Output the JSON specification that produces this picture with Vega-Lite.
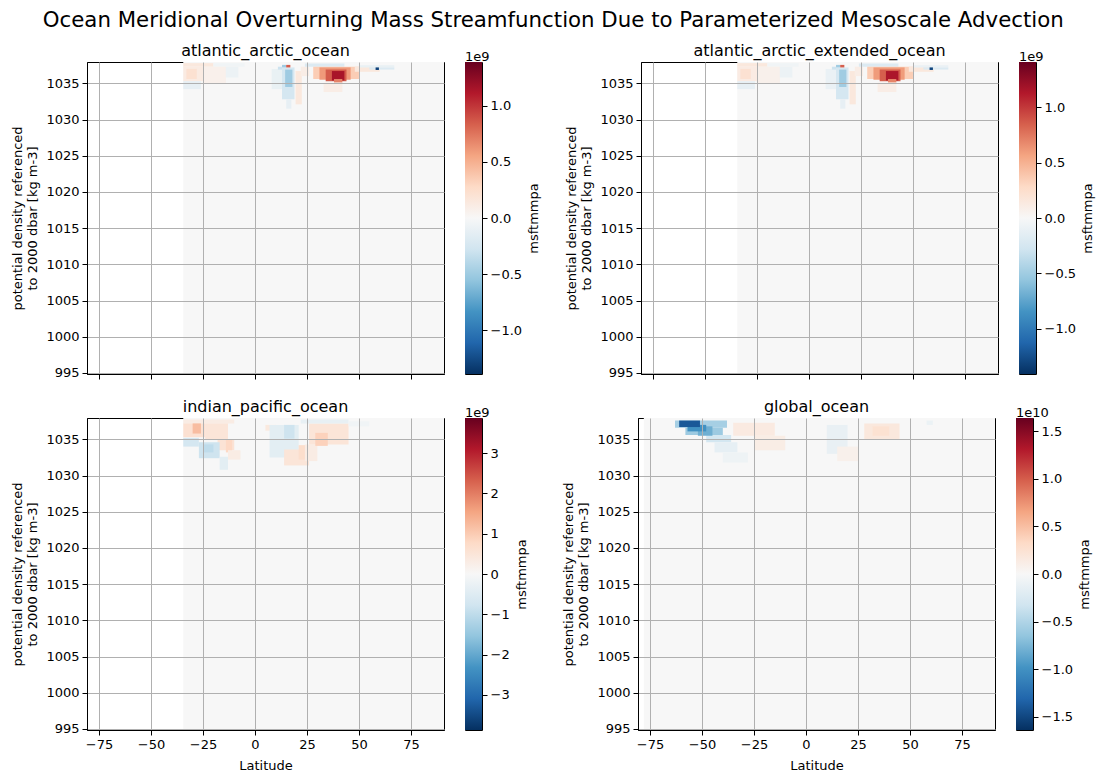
{
  "$schema": "https://vega.github.io/schema/vega-lite/v6.json",
  "background": "white",
  "padding": {"left": 11, "top": 10, "right": 0, "bottom": 0},
  "title": {"text": "Ocean Meridional Overturning Mass Streamfunction Due to Parameterized Mesoscale Advection", "fontSize": 21.3, "anchor": "middle", "offset": 11},
  "config": {
    "font": "DejaVu Sans",
    "view": {"stroke": "#000000", "strokeWidth": 1},
    "axis": {"labelFontSize": 13, "titleFontSize": 13, "labelColor": "#000000", "titleColor": "#000000", "titleFontWeight": "normal", "tickColor": "#000000", "domainColor": "#000000", "tickSize": 5, "labelPadding": 3, "gridColor": "#b0b0b0", "gridOpacity": 1, "gridWidth": 1, "domainWidth": 1, "tickWidth": 1},
    "title": {"fontSize": 16, "fontWeight": "normal", "color": "#000000", "offset": 3}
  },
  "resolve": {"scale": {"color": "independent"}},
  "datasets": {
    "aa": [
      {"lat0": -34.5, "lat1": 90.9, "dens0": 994.86, "dens1": 1037.95, "v": 0},
      {"lat0": -34.5, "lat1": -20, "dens0": 1037.3, "dens1": 1037.8, "v": 0.15e9},
      {"lat0": -20, "lat1": -5, "dens0": 1037.3, "dens1": 1037.8, "v": -0.05e9},
      {"lat0": -34.5, "lat1": -25, "dens0": 1035.3, "dens1": 1037.3, "v": 0.12e9},
      {"lat0": -33, "lat1": -28, "dens0": 1035.6, "dens1": 1037.0, "v": 0.22e9},
      {"lat0": -34.5, "lat1": -26, "dens0": 1034.2, "dens1": 1035.3, "v": -0.12e9},
      {"lat0": -25, "lat1": -14, "dens0": 1035.0, "dens1": 1037.3, "v": 0.07e9},
      {"lat0": -14, "lat1": -8, "dens0": 1035.8, "dens1": 1037.3, "v": -0.08e9},
      {"lat0": 8, "lat1": 13, "dens0": 1034.2, "dens1": 1037.0, "v": -0.1e9},
      {"lat0": 13, "lat1": 19, "dens0": 1032.8, "dens1": 1037.2, "v": -0.25e9},
      {"lat0": 14.5, "lat1": 18, "dens0": 1034.5, "dens1": 1036.9, "v": -0.5e9},
      {"lat0": 15, "lat1": 17.5, "dens0": 1031.5, "dens1": 1032.8, "v": -0.12e9},
      {"lat0": 19.5, "lat1": 22.5, "dens0": 1032.1, "dens1": 1036.7, "v": 0.15e9},
      {"lat0": 22, "lat1": 26, "dens0": 1036.0, "dens1": 1037.3, "v": 0.1e9},
      {"lat0": 11, "lat1": 13, "dens0": 1036.9, "dens1": 1037.3, "v": -0.3e9},
      {"lat0": 13, "lat1": 15, "dens0": 1037.2, "dens1": 1037.55, "v": -0.5e9},
      {"lat0": 15, "lat1": 17, "dens0": 1037.2, "dens1": 1037.55, "v": 0.85e9},
      {"lat0": 24, "lat1": 43, "dens0": 1037.3, "dens1": 1037.75, "v": -0.2e9},
      {"lat0": 28, "lat1": 50, "dens0": 1035.6, "dens1": 1037.3, "v": 0.35e9},
      {"lat0": 48, "lat1": 60, "dens0": 1036.6, "dens1": 1037.3, "v": 0.15e9},
      {"lat0": 31, "lat1": 46, "dens0": 1035.5, "dens1": 1037.2, "v": 0.6e9},
      {"lat0": 34, "lat1": 44, "dens0": 1035.3, "dens1": 1036.9, "v": 0.85e9},
      {"lat0": 37, "lat1": 43, "dens0": 1035.4, "dens1": 1036.7, "v": 1.15e9},
      {"lat0": 38, "lat1": 42, "dens0": 1035.1, "dens1": 1035.6, "v": 0.7e9},
      {"lat0": 33, "lat1": 42, "dens0": 1033.8, "dens1": 1035.1, "v": 0.1e9},
      {"lat0": 50, "lat1": 67, "dens0": 1037.2, "dens1": 1037.5, "v": -0.1e9},
      {"lat0": 55, "lat1": 67, "dens0": 1036.9, "dens1": 1037.2, "v": -0.2e9},
      {"lat0": 58, "lat1": 59.6, "dens0": 1036.85, "dens1": 1037.2, "v": -1.3e9}
    ],
    "ip": [
      {"lat0": -34.5, "lat1": 90.9, "dens0": 994.86, "dens1": 1037.95, "v": 0},
      {"lat0": -34.5, "lat1": -10, "dens0": 1037.2, "dens1": 1037.75, "v": 0.3e9},
      {"lat0": -34.5, "lat1": -24, "dens0": 1035.3, "dens1": 1037.2, "v": 0.6e9},
      {"lat0": -30, "lat1": -26, "dens0": 1035.8, "dens1": 1037.2, "v": 1.2e9},
      {"lat0": -24, "lat1": -13, "dens0": 1035.0, "dens1": 1037.2, "v": 0.5e9},
      {"lat0": -18, "lat1": -10, "dens0": 1033.5, "dens1": 1035.0, "v": 0.55e9},
      {"lat0": -14, "lat1": -11, "dens0": 1033.2, "dens1": 1035.0, "v": 0.8e9},
      {"lat0": -13, "lat1": -7, "dens0": 1032.2, "dens1": 1033.5, "v": 0.3e9},
      {"lat0": -34.5, "lat1": -27, "dens0": 1034.0, "dens1": 1035.2, "v": -0.7e9},
      {"lat0": -27, "lat1": -17, "dens0": 1032.4, "dens1": 1034.6, "v": -0.8e9},
      {"lat0": -25, "lat1": -20, "dens0": 1033.2, "dens1": 1034.3, "v": -1.0e9},
      {"lat0": -17, "lat1": -13, "dens0": 1030.8, "dens1": 1032.6, "v": -0.4e9},
      {"lat0": 5, "lat1": 10, "dens0": 1036.2, "dens1": 1037.0, "v": 0.4e9},
      {"lat0": 7, "lat1": 21, "dens0": 1032.5, "dens1": 1037.0, "v": -0.4e9},
      {"lat0": 14, "lat1": 19, "dens0": 1035.1, "dens1": 1037.0, "v": -0.8e9},
      {"lat0": 14, "lat1": 26, "dens0": 1031.4, "dens1": 1033.6, "v": 0.5e9},
      {"lat0": 21, "lat1": 26, "dens0": 1032.2, "dens1": 1034.2, "v": 0.7e9},
      {"lat0": 24, "lat1": 30, "dens0": 1032.0, "dens1": 1034.3, "v": 0.3e9},
      {"lat0": 26, "lat1": 45, "dens0": 1034.3, "dens1": 1037.2, "v": 0.5e9},
      {"lat0": 29, "lat1": 35, "dens0": 1034.1, "dens1": 1035.9, "v": 0.9e9},
      {"lat0": 22, "lat1": 45, "dens0": 1037.2, "dens1": 1037.75, "v": -0.3e9},
      {"lat0": 45, "lat1": 55, "dens0": 1036.8, "dens1": 1037.5, "v": -0.15e9}
    ],
    "gl": [
      {"lat0": -78, "lat1": 90.9, "dens0": 994.86, "dens1": 1037.95, "v": 0},
      {"lat0": -63, "lat1": -38, "dens0": 1036.6, "dens1": 1037.6, "v": -0.55e10},
      {"lat0": -58, "lat1": -40, "dens0": 1035.6, "dens1": 1036.6, "v": -0.6e10},
      {"lat0": -48, "lat1": -36, "dens0": 1034.6, "dens1": 1035.6, "v": -0.3e10},
      {"lat0": -44, "lat1": -33, "dens0": 1033.2, "dens1": 1034.6, "v": -0.15e10},
      {"lat0": -40, "lat1": -28, "dens0": 1031.8, "dens1": 1033.2, "v": -0.08e10},
      {"lat0": -52, "lat1": -45, "dens0": 1035.5, "dens1": 1036.8, "v": -0.8e10},
      {"lat0": -57, "lat1": -48, "dens0": 1036.1, "dens1": 1037.0, "v": -1.0e10},
      {"lat0": -61, "lat1": -51, "dens0": 1036.7, "dens1": 1037.6, "v": -1.4e10},
      {"lat0": -35, "lat1": -15, "dens0": 1035.5, "dens1": 1037.3, "v": 0.15e10},
      {"lat0": -25, "lat1": -10, "dens0": 1033.5, "dens1": 1035.5, "v": 0.12e10},
      {"lat0": 10, "lat1": 20, "dens0": 1033.0, "dens1": 1037.0, "v": -0.12e10},
      {"lat0": 15, "lat1": 25, "dens0": 1032.0, "dens1": 1034.0, "v": 0.08e10},
      {"lat0": 28, "lat1": 45, "dens0": 1035.0, "dens1": 1037.2, "v": 0.18e10},
      {"lat0": 32, "lat1": 40, "dens0": 1035.5, "dens1": 1036.8, "v": 0.25e10},
      {"lat0": 58, "lat1": 61, "dens0": 1037.0, "dens1": 1037.6, "v": -0.1e10}
    ]
  },
  "vconcat": [
    {
      "resolve": {"scale": {"color": "independent"}},
      "hconcat": [
        {
          "resolve": {"scale": {"color": "independent"}},
          "hconcat": [
            {
              "width": 357, "height": 312,
              "title": "atlantic_arctic_ocean",
              "data": {"name": "aa"},
              "mark": {"type": "rect"},
              "encoding": {
                "x": {"field": "lat0", "type": "quantitative", "scale": {"domain": [-80.8, 90.9], "nice": false, "zero": false}, "axis": {"values": [-75, -50, -25, 0, 25, 50, 75], "labels": false, "title": null, "zindex": 1}},
                "x2": {"field": "lat1"},
                "y": {"field": "dens0", "type": "quantitative", "scale": {"domain": [994.86, 1037.95], "nice": false, "zero": false}, "axis": {"values": [995, 1000, 1005, 1010, 1015, 1020, 1025, 1030, 1035], "format": "d", "title": ["potential density referenced", "to 2000 dbar [kg m-3]"], "titlePadding": 6, "zindex": 1}},
                "y2": {"field": "dens1"},
                "color": {"field": "v", "type": "quantitative", "scale": {"domain": [-1.39e9, -1.112e9, -0.834e9, -0.556e9, -0.278e9, 0, 0.278e9, 0.556e9, 0.834e9, 1.112e9, 1.39e9], "range": ["#053061", "#2166ac", "#4393c3", "#92c5de", "#d1e5f0", "#f7f7f7", "#fddbc7", "#f4a582", "#d6604d", "#b2182b", "#67001f"], "interpolate": "rgb"}, "legend": null}
              }
            },
            {
              "width": 17, "height": 312,
              "title": {"text": "1e9", "fontSize": 13, "anchor": "start", "offset": -2},
              "data": {"values": [{"lo": -1.39e9, "hi": 1.39e9}]},
              "mark": {"type": "rect", "fill": {"gradient": "linear", "x1": 0, "y1": 1, "x2": 0, "y2": 0, "stops": [{"offset": 0, "color": "#053061"}, {"offset": 0.1, "color": "#2166ac"}, {"offset": 0.2, "color": "#4393c3"}, {"offset": 0.3, "color": "#92c5de"}, {"offset": 0.4, "color": "#d1e5f0"}, {"offset": 0.5, "color": "#f7f7f7"}, {"offset": 0.6, "color": "#fddbc7"}, {"offset": 0.7, "color": "#f4a582"}, {"offset": 0.8, "color": "#d6604d"}, {"offset": 0.9, "color": "#b2182b"}, {"offset": 1, "color": "#67001f"}]}},
              "encoding": {
                "y": {"field": "lo", "type": "quantitative", "scale": {"domain": [-1.39e9, 1.39e9], "nice": false, "zero": false}, "axis": {"orient": "right", "values": [-1e9, -0.5e9, 0, 0.5e9, 1e9], "labelExpr": "format(datum.value/1e9, '.1f')", "grid": false, "domain": false, "title": "msftmmpa", "titleAngle": 270, "titlePadding": 19}},
                "y2": {"field": "hi"}
              }
            }
          ],
          "spacing": 19
        },
        {
          "resolve": {"scale": {"color": "independent"}},
          "hconcat": [
            {
              "width": 357, "height": 312,
              "title": "atlantic_arctic_extended_ocean",
              "data": {"name": "aa"},
              "mark": {"type": "rect"},
              "encoding": {
                "x": {"field": "lat0", "type": "quantitative", "scale": {"domain": [-80.8, 90.9], "nice": false, "zero": false}, "axis": {"values": [-75, -50, -25, 0, 25, 50, 75], "labels": false, "title": null, "zindex": 1}},
                "x2": {"field": "lat1"},
                "y": {"field": "dens0", "type": "quantitative", "scale": {"domain": [994.86, 1037.95], "nice": false, "zero": false}, "axis": {"values": [995, 1000, 1005, 1010, 1015, 1020, 1025, 1030, 1035], "format": "d", "title": ["potential density referenced", "to 2000 dbar [kg m-3]"], "titlePadding": 6, "zindex": 1}},
                "y2": {"field": "dens1"},
                "color": {"field": "v", "type": "quantitative", "scale": {"domain": [-1.41e9, -1.128e9, -0.846e9, -0.564e9, -0.282e9, 0, 0.282e9, 0.564e9, 0.846e9, 1.128e9, 1.41e9], "range": ["#053061", "#2166ac", "#4393c3", "#92c5de", "#d1e5f0", "#f7f7f7", "#fddbc7", "#f4a582", "#d6604d", "#b2182b", "#67001f"], "interpolate": "rgb"}, "legend": null}
              }
            },
            {
              "width": 17, "height": 312,
              "title": {"text": "1e9", "fontSize": 13, "anchor": "start", "offset": -2},
              "data": {"values": [{"lo": -1.41e9, "hi": 1.41e9}]},
              "mark": {"type": "rect", "fill": {"gradient": "linear", "x1": 0, "y1": 1, "x2": 0, "y2": 0, "stops": [{"offset": 0, "color": "#053061"}, {"offset": 0.1, "color": "#2166ac"}, {"offset": 0.2, "color": "#4393c3"}, {"offset": 0.3, "color": "#92c5de"}, {"offset": 0.4, "color": "#d1e5f0"}, {"offset": 0.5, "color": "#f7f7f7"}, {"offset": 0.6, "color": "#fddbc7"}, {"offset": 0.7, "color": "#f4a582"}, {"offset": 0.8, "color": "#d6604d"}, {"offset": 0.9, "color": "#b2182b"}, {"offset": 1, "color": "#67001f"}]}},
              "encoding": {
                "y": {"field": "lo", "type": "quantitative", "scale": {"domain": [-1.41e9, 1.41e9], "nice": false, "zero": false}, "axis": {"orient": "right", "values": [-1e9, -0.5e9, 0, 0.5e9, 1e9], "labelExpr": "format(datum.value/1e9, '.1f')", "grid": false, "domain": false, "title": "msftmmpa", "titleAngle": 270, "titlePadding": 19}},
                "y2": {"field": "hi"}
              }
            }
          ],
          "spacing": 19
        }
      ],
      "spacing": 23
    },
    {
      "resolve": {"scale": {"color": "independent"}},
      "hconcat": [
        {
          "resolve": {"scale": {"color": "independent"}},
          "hconcat": [
            {
              "width": 357, "height": 312,
              "title": "indian_pacific_ocean",
              "data": {"name": "ip"},
              "mark": {"type": "rect"},
              "encoding": {
                "x": {"field": "lat0", "type": "quantitative", "scale": {"domain": [-80.8, 90.9], "nice": false, "zero": false}, "axis": {"values": [-75, -50, -25, 0, 25, 50, 75], "title": "Latitude", "titlePadding": 8, "zindex": 1}},
                "x2": {"field": "lat1"},
                "y": {"field": "dens0", "type": "quantitative", "scale": {"domain": [994.86, 1037.95], "nice": false, "zero": false}, "axis": {"values": [995, 1000, 1005, 1010, 1015, 1020, 1025, 1030, 1035], "format": "d", "title": ["potential density referenced", "to 2000 dbar [kg m-3]"], "titlePadding": 6, "zindex": 1}},
                "y2": {"field": "dens1"},
                "color": {"field": "v", "type": "quantitative", "scale": {"domain": [-3.87e9, -3.096e9, -2.322e9, -1.548e9, -0.774e9, 0, 0.774e9, 1.548e9, 2.322e9, 3.096e9, 3.87e9], "range": ["#053061", "#2166ac", "#4393c3", "#92c5de", "#d1e5f0", "#f7f7f7", "#fddbc7", "#f4a582", "#d6604d", "#b2182b", "#67001f"], "interpolate": "rgb"}, "legend": null}
              }
            },
            {
              "width": 17, "height": 312,
              "title": {"text": "1e9", "fontSize": 13, "anchor": "start", "offset": -2},
              "data": {"values": [{"lo": -3.87e9, "hi": 3.87e9}]},
              "mark": {"type": "rect", "fill": {"gradient": "linear", "x1": 0, "y1": 1, "x2": 0, "y2": 0, "stops": [{"offset": 0, "color": "#053061"}, {"offset": 0.1, "color": "#2166ac"}, {"offset": 0.2, "color": "#4393c3"}, {"offset": 0.3, "color": "#92c5de"}, {"offset": 0.4, "color": "#d1e5f0"}, {"offset": 0.5, "color": "#f7f7f7"}, {"offset": 0.6, "color": "#fddbc7"}, {"offset": 0.7, "color": "#f4a582"}, {"offset": 0.8, "color": "#d6604d"}, {"offset": 0.9, "color": "#b2182b"}, {"offset": 1, "color": "#67001f"}]}},
              "encoding": {
                "y": {"field": "lo", "type": "quantitative", "scale": {"domain": [-3.87e9, 3.87e9], "nice": false, "zero": false}, "axis": {"orient": "right", "values": [-3e9, -2e9, -1e9, 0, 1e9, 2e9, 3e9], "labelExpr": "format(datum.value/1e9, 'd')", "grid": false, "domain": false, "title": "msftmmpa", "titleAngle": 270, "titlePadding": 19}},
                "y2": {"field": "hi"}
              }
            }
          ],
          "spacing": 19
        },
        {
          "resolve": {"scale": {"color": "independent"}},
          "hconcat": [
            {
              "width": 357, "height": 312,
              "title": "global_ocean",
              "data": {"name": "gl"},
              "mark": {"type": "rect"},
              "encoding": {
                "x": {"field": "lat0", "type": "quantitative", "scale": {"domain": [-80.8, 90.9], "nice": false, "zero": false}, "axis": {"values": [-75, -50, -25, 0, 25, 50, 75], "title": "Latitude", "titlePadding": 8, "zindex": 1}},
                "x2": {"field": "lat1"},
                "y": {"field": "dens0", "type": "quantitative", "scale": {"domain": [994.86, 1037.95], "nice": false, "zero": false}, "axis": {"values": [995, 1000, 1005, 1010, 1015, 1020, 1025, 1030, 1035], "format": "d", "title": ["potential density referenced", "to 2000 dbar [kg m-3]"], "titlePadding": 6, "zindex": 1}},
                "y2": {"field": "dens1"},
                "color": {"field": "v", "type": "quantitative", "scale": {"domain": [-1.64e10, -1.312e10, -0.984e10, -0.656e10, -0.328e10, 0, 0.328e10, 0.656e10, 0.984e10, 1.312e10, 1.64e10], "range": ["#053061", "#2166ac", "#4393c3", "#92c5de", "#d1e5f0", "#f7f7f7", "#fddbc7", "#f4a582", "#d6604d", "#b2182b", "#67001f"], "interpolate": "rgb"}, "legend": null}
              }
            },
            {
              "width": 17, "height": 312,
              "title": {"text": "1e10", "fontSize": 13, "anchor": "start", "offset": -2},
              "data": {"values": [{"lo": -1.64e10, "hi": 1.64e10}]},
              "mark": {"type": "rect", "fill": {"gradient": "linear", "x1": 0, "y1": 1, "x2": 0, "y2": 0, "stops": [{"offset": 0, "color": "#053061"}, {"offset": 0.1, "color": "#2166ac"}, {"offset": 0.2, "color": "#4393c3"}, {"offset": 0.3, "color": "#92c5de"}, {"offset": 0.4, "color": "#d1e5f0"}, {"offset": 0.5, "color": "#f7f7f7"}, {"offset": 0.6, "color": "#fddbc7"}, {"offset": 0.7, "color": "#f4a582"}, {"offset": 0.8, "color": "#d6604d"}, {"offset": 0.9, "color": "#b2182b"}, {"offset": 1, "color": "#67001f"}]}},
              "encoding": {
                "y": {"field": "lo", "type": "quantitative", "scale": {"domain": [-1.64e10, 1.64e10], "nice": false, "zero": false}, "axis": {"orient": "right", "values": [-1.5e10, -1e10, -0.5e10, 0, 0.5e10, 1e10, 1.5e10], "labelExpr": "format(datum.value/1e10, '.1f')", "grid": false, "domain": false, "title": "msftmmpa", "titleAngle": 270, "titlePadding": 19}},
                "y2": {"field": "hi"}
              }
            }
          ],
          "spacing": 19
        }
      ],
      "spacing": 33
    }
  ],
  "spacing": 17
}
